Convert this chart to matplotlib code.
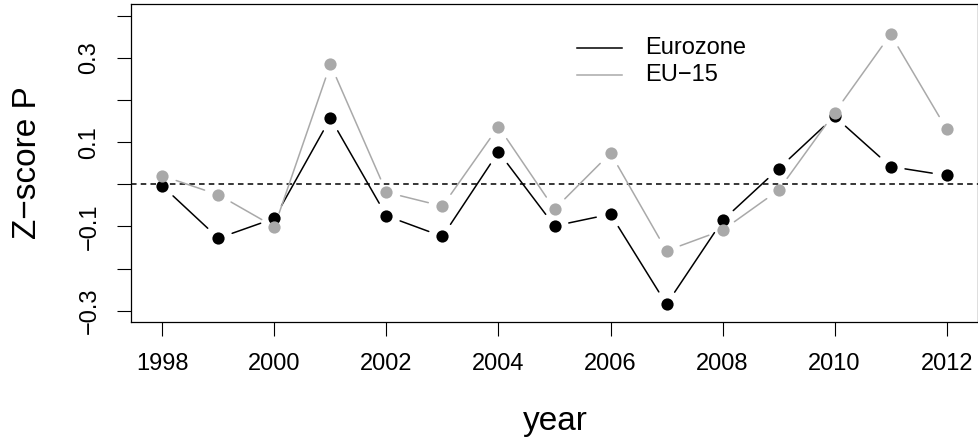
import matplotlib
matplotlib.use("Agg")
import matplotlib.pyplot as plt

plt.rcParams['font.family'] = ['Liberation Sans', 'DejaVu Sans']
plt.rcParams['lines.scale_dashes'] = False

# data
years = [1998, 1999, 2000, 2001, 2002, 2003, 2004, 2005,
         2006, 2007, 2008, 2009, 2010, 2011, 2012]
eurozone = [-0.004, -0.128, -0.081, 0.157, -0.075, -0.124, 0.077, -0.099,
            -0.071, -0.285, -0.086, 0.037, 0.161, 0.042, 0.021]
eu15 = [0.020, -0.025, -0.101, 0.285, -0.019, -0.052, 0.137, -0.059,
        0.074, -0.158, -0.109, -0.014, 0.170, 0.356, 0.131]
series_names = ['Eurozone', 'EU\u221215']
series_colors = ['black', '#a9a9a9']

xticks = [1998, 2000, 2002, 2004, 2006, 2008, 2010, 2012]
yticks = [-0.3, -0.2, -0.1, 0.0, 0.1, 0.2, 0.3, 0.4]
ytick_labels = ['\u22120.3', '', '\u22120.1', '', '0.1', '', '0.3', '']

W, H = 979, 444
fig = plt.figure(figsize=(W / 100, H / 100), dpi=100)
ax = fig.add_axes([131 / W, 1 - 322 / H, (978 - 131) / W, (322 - 4) / H])

ax.set_xlim(1997.44, 2012.56)
ax.set_ylim(-0.327, 0.428)

# dashed zero line
ax.axhline(0, color='black', lw=1.1, dashes=(4, 3), zorder=1)


# R style type="b": segments stop short of the points
def draw_series(xs, ys, color, z):
    for i in range(len(xs) - 1):
        ax.annotate('', xy=(xs[i + 1], ys[i + 1]), xytext=(xs[i], ys[i]),
                    arrowprops=dict(arrowstyle='-', color=color, lw=1.1,
                                    shrinkA=10.5, shrinkB=10.5),
                    zorder=z)
    ax.plot(xs, ys, 'o', color=color, markersize=8.8, markeredgewidth=0,
            zorder=z + 0.5)


draw_series(years, eurozone, series_colors[0], 2)
draw_series(years, eu15, series_colors[1], 3)

# ticks
ax.set_xticks(xticks)
ax.set_xticklabels([str(t) for t in xticks])
ax.set_yticks(yticks)
ax.set_yticklabels(ytick_labels, rotation=90, va='center')
ax.tick_params(axis='both', length=10, width=0.8, labelsize=17, pad=12)
for sp in ax.spines.values():
    sp.set_linewidth(0.9)

# axis titles
fig.text(555 / W, 1 - 430 / H, 'year', fontsize=24, ha='center', va='baseline')
fig.text(27.7 / W, 1 - 162.5 / H, 'Z\u2212score P', fontsize=24, rotation=90,
         ha='center', va='center')

# legend drawn by hand
for i, (name, col) in enumerate(zip(series_names, series_colors)):
    yy = 1 - (47.7 + 27.3 * i) / H
    fig.add_artist(plt.Line2D([577 / W, 622 / W], [yy, yy], color=col, lw=1.1,
                              transform=fig.transFigure))
    fig.text(645 / W, yy, name, fontsize=17, ha='left', va='center')

fig.savefig('out.png', dpi=100)
